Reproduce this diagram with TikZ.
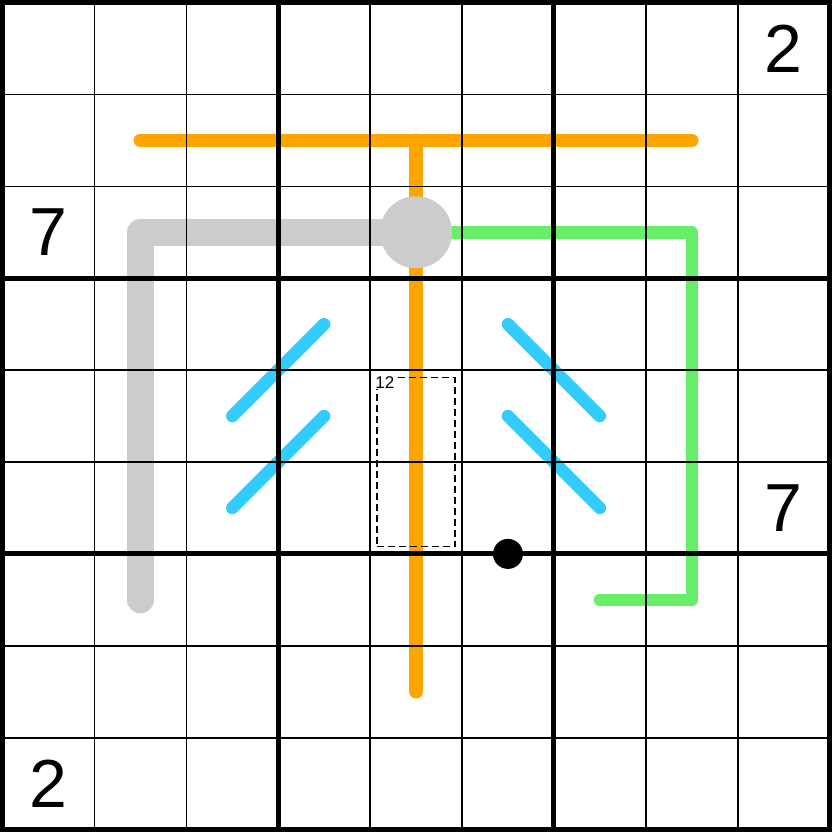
\documentclass[tikz,border=0pt]{standalone}
\usepackage{fontspec}
\setmainfont{Liberation Sans}
\definecolor{orng}{RGB}{255,165,0}
\definecolor{gry}{RGB}{204,204,204}
\definecolor{grn}{RGB}{104,238,104}
\definecolor{blu}{RGB}{51,204,255}
\tikzset{
  thinline/.style={line width=1.6pt, black},
  thickline/.style={line width=5pt, black},
  orangeline/.style={orng, line width=13.5pt, line cap=round, line join=round},
  grayline/.style={gry, line width=27pt, line cap=round, line join=round},
  greenline/.style={grn, line width=12.5pt, line cap=round, line join=round},
  blueline/.style={blu, line width=12.5pt, line cap=round},
  given/.style={inner sep=0pt, font=\fontsize{68pt}{68pt}\selectfont},
  cagebox/.style={draw, line width=1.6pt, dash pattern=on 7pt off 4pt},
  cagelabel/.style={inner sep=0pt, anchor=north west, fill=white, font=\fontsize{17pt}{17pt}\selectfont},
}
\begin{document}
\begin{tikzpicture}
\useasboundingbox (0,0) rectangle (832pt,-832pt);
\fill[white] (0,0) rectangle (832pt,-832pt);
\begin{scope}[shift={(2.5pt,-2.5pt)}, x=91.9pt, y=-91.9pt]
  % coordinates
  \coordinate (oL) at (1.5,1.5);
  \coordinate (oR) at (7.5,1.5);
  \coordinate (oT) at (4.5,1.5);
  \coordinate (oB) at (4.5,7.5);
  \coordinate (hubc) at (4.5,2.5);
  \coordinate (g1) at (1.5,2.5);
  \coordinate (g2) at (1.5,6.5);
  \coordinate (n1) at (7.5,2.5);
  \coordinate (n2) at (7.5,6.5);
  \coordinate (n3) at (6.5,6.5);
  \coordinate (b1a) at (2.5,4.5); \coordinate (b1b) at (3.5,3.5);
  \coordinate (b2a) at (2.5,5.5); \coordinate (b2b) at (3.5,4.5);
  \coordinate (b3a) at (5.5,3.5); \coordinate (b3b) at (6.5,4.5);
  \coordinate (b4a) at (5.5,4.5); \coordinate (b4b) at (6.5,5.5);
  % orange
  \draw[orangeline] (oL) -- (oR);
  \draw[orangeline] (oT) -- (oB);
  % green
  \draw[greenline] (hubc) -- (n1) -- (n2) -- (n3);
  % gray
  \draw[grayline] (hubc) -- (g1) -- (g2);
  \node[circle, fill=gry, minimum size=72pt, inner sep=0pt] (hub) at (hubc) {};
  % blue
  \draw[blueline] (b1a) -- (b1b);
  \draw[blueline] (b2a) -- (b2b);
  \draw[blueline] (b3a) -- (b3b);
  \draw[blueline] (b4a) -- (b4b);
  % cage
  \node[cagebox, inner sep=0pt, minimum width=78pt, minimum height=169pt] (cage) at (4.5,5) {};
  \node[cagelabel] (cagesum) at ([xshift=-1pt,yshift=0pt]cage.north west) {12};
  % grid
  \foreach \i in {1,2,4,5,7,8} {
    \draw[thinline] (\i,0) -- (\i,9);
    \draw[thinline] (0,\i) -- (9,\i);
  }
  \foreach \i in {3,6} {
    \draw[thickline] (\i,0) -- (\i,9);
    \draw[thickline] (0,\i) -- (9,\i);
  }
  \draw[thickline] (0,0) rectangle (9,9);
  % dot
  \node[circle, fill=black, minimum size=30pt, inner sep=0pt] (dot) at (5.5,6) {};
  % givens
  \node[given] (d1) at (8.5,0.5) {2};
  \node[given] (d2) at (0.5,2.5) {7};
  \node[given] (d3) at (8.5,5.5) {7};
  \node[given] (d4) at (0.5,8.5) {2};
\end{scope}
\end{tikzpicture}
\end{document}
